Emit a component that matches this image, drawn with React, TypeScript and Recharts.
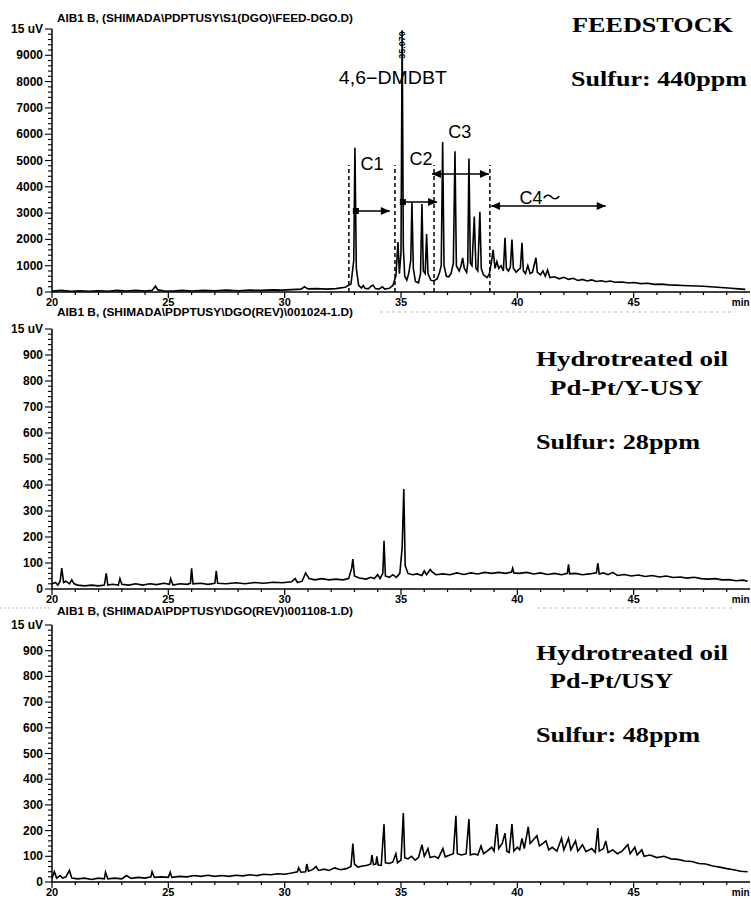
import React from "react";
import { LineChart, Line, XAxis, YAxis, ReferenceLine, ReferenceDot } from "recharts";

type Pt = [number, number];

// retention time axis (min)
const X_MAJOR = [20, 25, 30, 35, 40, 45];
const X_MINOR = [21, 22, 23, 24, 26, 27, 28, 29, 31, 32, 33, 34, 36, 37, 38, 39, 41, 42, 43, 44, 46, 47, 48, 49];
const X_UNIT_AT = 49.6;
const X_UNIT = "min";

const FEED_Y_MAJOR = [0, 1000, 2000, 3000, 4000, 5000, 6000, 7000, 8000, 9000];
const HT_Y_MAJOR = [0, 100, 200, 300, 400, 500, 600, 700, 800, 900];
const Y_TOP_LABEL = "15 uV";

const TITLES = [
  "AIB1 B,  (SHIMADA\\PDPTUSY\\S1(DGO)\\FEED-DGO.D)",
  "AIB1 B,  (SHIMADA\\PDPTUSY\\DGO(REV)\\001024-1.D)",
  "AIB1 B,  (SHIMADA\\PDPTUSY\\DGO(REV)\\001108-1.D)",
];

// feedstock chromatogram
const FEED: Pt[] = [
  [20.0, 40], [20.4, 60], [20.8, 30], [21.2, 50], [21.6, 30], [22.0, 50], [22.4, 30], [22.8, 60],
  [23.2, 40], [23.6, 60], [24.0, 40], [24.3, 60], [24.45, 220], [24.55, 80], [24.8, 50], [25.2, 40],
  [25.6, 60], [26.0, 40], [26.5, 60], [27.0, 50], [27.5, 70], [28.0, 50], [28.5, 70], [29.0, 60],
  [29.5, 80], [29.9, 70], [30.3, 90], [30.7, 110], [30.85, 200], [31.0, 120], [31.4, 130], [31.8, 110],
  [32.2, 130], [32.6, 180], [32.85, 300], [32.97, 1200], [33.02, 5480], [33.08, 900], [33.18, 250],
  [33.3, 150], [33.38, 250], [33.45, 140], [33.6, 120], [33.72, 230], [33.8, 260], [33.9, 130],
  [34.05, 110], [34.2, 200], [34.3, 110], [34.5, 140], [34.65, 250], [34.78, 600], [34.87, 1900],
  [34.93, 700], [35.0, 1500], [35.05, 9950], [35.1, 1700], [35.16, 600], [35.25, 450], [35.33, 700],
  [35.42, 1200], [35.47, 3400], [35.53, 900], [35.62, 400], [35.75, 350], [35.84, 700], [35.9, 3350],
  [35.96, 800], [36.04, 700], [36.1, 2200], [36.16, 700], [36.28, 450], [36.4, 420], [36.55, 500],
  [36.65, 720], [36.73, 1000], [36.79, 5700], [36.85, 1000], [36.95, 600], [37.05, 580], [37.15, 700],
  [37.25, 1100], [37.32, 5350], [37.38, 1000], [37.5, 800], [37.58, 1000], [37.65, 1300], [37.72, 900],
  [37.82, 750], [37.87, 1100], [37.92, 5080], [37.98, 1100], [38.05, 1000], [38.15, 2870], [38.22, 900],
  [38.3, 800], [38.39, 3050], [38.45, 900], [38.55, 650], [38.7, 550], [38.8, 700], [38.88, 1100],
  [38.96, 1600], [39.04, 900], [39.12, 1150], [39.2, 900], [39.3, 1000], [39.4, 800], [39.47, 2060],
  [39.53, 900], [39.62, 800], [39.7, 950], [39.77, 1990], [39.83, 900], [39.95, 750], [40.05, 850],
  [40.13, 900], [40.2, 1870], [40.26, 800], [40.35, 700], [40.45, 1000], [40.55, 700], [40.65, 750],
  [40.8, 1300], [40.86, 750], [41.0, 650], [41.1, 800], [41.2, 600], [41.3, 840], [41.4, 550],
  [41.6, 580], [41.8, 500], [42.0, 560], [42.2, 480], [42.4, 520], [42.6, 440], [42.8, 480], [43.0, 420],
  [43.2, 460], [43.4, 400], [43.6, 430], [43.8, 390], [44.0, 420], [44.2, 370], [44.5, 380], [44.8, 340],
  [45.0, 360], [45.3, 320], [45.6, 330], [45.9, 290], [46.2, 300], [46.5, 270], [46.8, 260], [47.1, 250],
  [47.4, 240], [47.7, 230], [48.0, 220], [48.3, 200], [48.6, 180], [48.9, 160], [49.2, 140], [49.5, 120],
  [49.8, 100],
];

// hydrotreated, Pd-Pt/Y-USY
const PDPT_YUSY: Pt[] = [
  [20.0, 20], [20.15, 25], [20.25, 15], [20.35, 30], [20.42, 80], [20.5, 25], [20.6, 30], [20.75, 20],
  [20.85, 35], [20.95, 20], [21.1, 15], [21.4, 12], [21.7, 15], [22.0, 12], [22.25, 15], [22.33, 60],
  [22.4, 15], [22.6, 18], [22.85, 15], [22.92, 40], [23.0, 18], [23.3, 15], [23.6, 20], [23.9, 15],
  [24.2, 20], [24.5, 17], [24.8, 22], [25.05, 18], [25.1, 40], [25.2, 15], [25.5, 20], [25.8, 18],
  [25.95, 22], [26.0, 80], [26.06, 20], [26.4, 22], [26.7, 18], [27.0, 22], [27.06, 70], [27.12, 22],
  [27.5, 20], [27.9, 24], [28.3, 20], [28.7, 25], [29.1, 22], [29.5, 26], [29.9, 24], [30.3, 28],
  [30.45, 40], [30.55, 25], [30.75, 30], [30.9, 62], [31.05, 40], [31.3, 35], [31.6, 40], [31.9, 35],
  [32.2, 38], [32.5, 35], [32.75, 40], [32.88, 80], [32.93, 115], [33.0, 50], [33.2, 42], [33.5, 38],
  [33.7, 45], [33.85, 40], [34.0, 55], [34.1, 40], [34.22, 60], [34.27, 185], [34.33, 50], [34.5, 45],
  [34.65, 55], [34.8, 45], [34.95, 60], [35.05, 160], [35.12, 385], [35.18, 90], [35.3, 60], [35.5, 55],
  [35.7, 58], [35.9, 52], [36.0, 70], [36.1, 55], [36.25, 75], [36.35, 65], [36.5, 55], [36.8, 58],
  [37.1, 55], [37.4, 62], [37.7, 56], [38.0, 62], [38.3, 58], [38.6, 64], [38.9, 60], [39.2, 64],
  [39.5, 60], [39.75, 65], [39.8, 80], [39.85, 62], [40.1, 60], [40.4, 64], [40.7, 58], [41.0, 62],
  [41.3, 56], [41.6, 60], [41.9, 55], [42.15, 60], [42.2, 95], [42.25, 58], [42.5, 60], [42.8, 55],
  [43.1, 58], [43.4, 62], [43.46, 100], [43.52, 58], [43.7, 62], [43.9, 55], [44.1, 64], [44.3, 52],
  [44.6, 56], [44.9, 50], [45.2, 54], [45.5, 48], [45.8, 52], [46.1, 46], [46.4, 50], [46.7, 44],
  [47.0, 46], [47.3, 42], [47.6, 45], [47.9, 40], [48.2, 38], [48.5, 40], [48.8, 35], [49.1, 36],
  [49.4, 32], [49.7, 34], [49.9, 30],
];

// hydrotreated, Pd-Pt/USY
const PDPT_USY: Pt[] = [
  [20.0, 15], [20.1, 40], [20.2, 15], [20.35, 25], [20.45, 15], [20.6, 20], [20.75, 45], [20.85, 15],
  [21.1, 12], [21.4, 15], [21.7, 10], [22.0, 15], [22.25, 12], [22.3, 38], [22.4, 12], [22.7, 15],
  [23.0, 12], [23.2, 25], [23.4, 14], [23.7, 18], [24.0, 15], [24.25, 20], [24.3, 40], [24.4, 18],
  [24.7, 20], [25.0, 18], [25.08, 38], [25.15, 18], [25.5, 22], [25.8, 20], [26.1, 25], [26.4, 22],
  [26.7, 26], [27.0, 22], [27.3, 25], [27.6, 22], [27.9, 26], [28.2, 24], [28.5, 28], [28.8, 25],
  [29.1, 30], [29.4, 28], [29.7, 32], [30.0, 30], [30.3, 35], [30.55, 40], [30.6, 55], [30.7, 38],
  [30.9, 40], [30.95, 70], [31.02, 42], [31.2, 48], [31.35, 60], [31.45, 45], [31.7, 50], [31.9, 45],
  [32.15, 55], [32.4, 48], [32.65, 52], [32.85, 60], [32.93, 150], [33.0, 70], [33.15, 58], [33.35, 62],
  [33.55, 65], [33.7, 70], [33.75, 105], [33.82, 68], [33.92, 70], [33.96, 100], [34.02, 66], [34.15, 65],
  [34.27, 225], [34.33, 75], [34.5, 72], [34.65, 78], [34.78, 110], [34.85, 75], [35.0, 85], [35.1, 268],
  [35.16, 95], [35.3, 90], [35.45, 100], [35.6, 85], [35.75, 95], [35.9, 145], [36.0, 100], [36.16, 130],
  [36.25, 95], [36.45, 100], [36.6, 92], [36.8, 130], [36.9, 98], [37.1, 105], [37.25, 110], [37.36, 258],
  [37.42, 110], [37.6, 105], [37.8, 110], [37.92, 245], [37.98, 105], [38.15, 110], [38.3, 105],
  [38.44, 140], [38.55, 110], [38.7, 120], [38.9, 135], [39.0, 120], [39.12, 225], [39.2, 130],
  [39.35, 150], [39.47, 190], [39.55, 120], [39.65, 115], [39.77, 225], [39.85, 120], [40.0, 135],
  [40.1, 125], [40.2, 170], [40.3, 130], [40.47, 215], [40.55, 150], [40.7, 165], [40.84, 180],
  [40.95, 140], [41.1, 150], [41.23, 160], [41.35, 125], [41.5, 135], [41.7, 120], [41.9, 170],
  [42.0, 125], [42.2, 170], [42.3, 125], [42.5, 160], [42.6, 120], [42.8, 145], [42.95, 118], [43.2, 130],
  [43.35, 115], [43.46, 210], [43.52, 120], [43.7, 130], [43.8, 160], [43.9, 115], [44.1, 125],
  [44.3, 110], [44.5, 120], [44.75, 145], [44.85, 110], [45.05, 135], [45.15, 105], [45.35, 125],
  [45.45, 100], [45.7, 105], [46.0, 95], [46.3, 100], [46.6, 90], [46.9, 88], [47.2, 82], [47.5, 80],
  [47.8, 72], [48.1, 70], [48.4, 62], [48.7, 58], [49.0, 52], [49.3, 48], [49.6, 42], [49.9, 40],
];

// group boundaries and arrows on the feedstock trace
const CUTS = [32.76, 34.74, 36.42, 38.82];
const CUT_TOP = 4830;
const ARROWS = [
  { from: 33.06, to: 34.52, v: 3080, left: "square", right: "head" },
  { from: 35.08, to: 36.55, v: 3420, left: "square", right: "head" },
  { from: 36.33, to: 38.78, v: 4490, left: "head", right: "head" },
  { from: 38.87, to: 43.8, v: 3270, left: "head", right: "head" },
];
const GROUP_LABELS = [
  { t: 33.75, v: 4900, text: "C1" },
  { t: 35.86, v: 5090, text: "C2" },
  { t: 37.53, v: 6120, text: "C3" },
  { t: 40.97, v: 3610, text: "C4～" },
];
const PEAK_NAME = { t: 34.65, v: 8170, text: "4,6−DMDBT" };
const PEAK_RT = { t: 35.05, v: 9390, text: "35.070" };

const SANS = "'Liberation Sans', Arial, 'Noto Sans CJK JP', sans-serif";
const SERIF = "'Liberation Serif', 'Times New Roman', serif";

const toRows = (pts: Pt[]) => pts.map(([t, v]) => ({ t, v }));
const steps = (max: number, step: number) => {
  const out: number[] = [];
  for (let v = 0; v <= max + 1e-9; v += step) out.push(Math.round(v));
  return out;
};

const X_TICKS = [...X_MAJOR, ...X_MINOR, X_UNIT_AT].sort((a, b) => a - b);

function XTick(props: any) {
  const { x, y, payload } = props;
  const val = payload.value;
  if (val === X_UNIT_AT) {
    return (
      <text x={x} y={y + 14} textAnchor="middle" fontSize={10} fontWeight="bold" fontFamily={SANS}>
        {X_UNIT}
      </text>
    );
  }
  const major = X_MAJOR.includes(val);
  return (
    <g>
      <line x1={x} x2={x} y1={y} y2={y + (major ? 6 : 3)} stroke="#000" strokeWidth={1.2} />
      {major && (
        <text x={x} y={y + 14} textAnchor="middle" fontSize={11} fontWeight="bold" fontFamily={SANS}>
          {val}
        </text>
      )}
    </g>
  );
}

function makeYTick(yMax: number, major: number[]) {
  return (props: any) => {
    const { x, y, payload } = props;
    const val = payload.value;
    const isTop = val === yMax;
    const isMajor = isTop || major.includes(val);
    return (
      <g>
        <line x1={x - (isMajor ? 7 : 4)} x2={x} y1={y} y2={y} stroke="#000" strokeWidth={1.1} />
        {isMajor && (
          <text x={x - 9} y={y + 4} textAnchor="end" fontSize={12} fontWeight="bold" fontFamily={SANS}>
            {isTop ? Y_TOP_LABEL : val}
          </text>
        )}
      </g>
    );
  };
}

const headLeft = (p: any) => <path d={`M${p.cx},${p.cy} l9,-4 l0,8 z`} fill="#000" />;
const headRight = (p: any) => <path d={`M${p.cx},${p.cy} l-9,-4 l0,8 z`} fill="#000" />;
const square = (p: any) => <rect x={p.cx - 3} y={p.cy - 3} width={6} height={6} fill="#000" />;
const textShape = (text: string, size: number, length?: number) => (p: any) => (
  <text
    x={p.cx}
    y={p.cy + size * 0.36}
    textAnchor="middle"
    fontSize={size}
    fontFamily={SANS}
    fill="#000"
    textLength={length}
    lengthAdjust={length ? "spacingAndGlyphs" : undefined}
  >
    {text}
  </text>
);
const rotatedShape = (text: string) => (p: any) => (
  <text
    x={p.cx}
    y={p.cy + 3}
    textAnchor="middle"
    fontSize={9}
    fontWeight="bold"
    fontFamily={SANS}
    transform={`rotate(-90 ${p.cx} ${p.cy})`}
  >
    {text}
  </text>
);

type PanelProps = {
  top: number;
  height: number;
  pts: Pt[];
  yMax: number;
  yMajor: number[];
  yMinorStep: number;
  extras?: React.ReactNode[];
};

function Panel({ top, height, pts, yMax, yMajor, yMinorStep, extras = [] }: PanelProps) {
  return (
    <div style={{ position: "absolute", left: 0, top, width: 751, height }}>
      <LineChart width={751} height={height} data={toRows(pts)} margin={{ top: 29, right: 1, bottom: 0, left: 0 }}>
        <XAxis
          type="number"
          dataKey="t"
          domain={[20, 50]}
          allowDataOverflow
          ticks={X_TICKS}
          interval={0}
          tick={(p: any) => <XTick {...p} />}
          tickLine={false}
          tickSize={0}
          tickMargin={0}
          height={18}
          axisLine={{ stroke: "#000", strokeWidth: 1.5 }}
        />
        <YAxis
          type="number"
          domain={[0, yMax]}
          allowDataOverflow
          ticks={steps(yMax, yMinorStep)}
          interval={0}
          tick={makeYTick(yMax, yMajor)}
          tickLine={false}
          tickSize={0}
          tickMargin={0}
          width={52}
          axisLine={{ stroke: "#000", strokeWidth: 1.5 }}
        />
        <Line type="linear" dataKey="v" stroke="#000" strokeWidth={1.6} dot={false} isAnimationActive={false} />
        {extras}
      </LineChart>
    </div>
  );
}

const feedExtras: React.ReactNode[] = [
  ...CUTS.map((c, i) => (
    <ReferenceLine
      key={`cut${i}`}
      segment={[{ x: c, y: 0 }, { x: c, y: CUT_TOP }]}
      stroke="#000"
      strokeWidth={1.5}
      strokeDasharray="4 3"
    />
  )),
  ...ARROWS.flatMap((a, i) => [
    <ReferenceLine
      key={`arr${i}`}
      segment={[{ x: a.from, y: a.v }, { x: a.to, y: a.v }]}
      stroke="#000"
      strokeWidth={1.5}
    />,
    <ReferenceDot key={`al${i}`} x={a.from} y={a.v} r={3} shape={a.left === "square" ? square : headLeft} />,
    <ReferenceDot key={`ar${i}`} x={a.to} y={a.v} r={3} shape={headRight} />,
  ]),
  ...GROUP_LABELS.map((g, i) => (
    <ReferenceDot key={`gl${i}`} x={g.t} y={g.v} r={1} shape={textShape(g.text, 18)} />
  )),
  <ReferenceDot key="pname" x={PEAK_NAME.t} y={PEAK_NAME.v} r={1} shape={textShape(PEAK_NAME.text, 18, 108)} />,
  <ReferenceDot key="prt" x={PEAK_RT.t} y={PEAK_RT.v} r={1} shape={rotatedShape(PEAK_RT.text)} />,
];

function Caption({ x, y, w, text }: { x: number; y: number; w: number; text: string }) {
  return (
    <text x={x} y={y} fontSize={22} fontWeight="bold" fontFamily={SERIF} textLength={w} lengthAdjust="spacingAndGlyphs">
      {text}
    </text>
  );
}

function Title({ y, text }: { y: number; text: string }) {
  return (
    <text x={57} y={y} fontSize={10} fontWeight="bold" fontFamily={SANS} textLength={296} lengthAdjust="spacingAndGlyphs">
      {text}
    </text>
  );
}

export default function App() {
  return (
    <div style={{ position: "absolute", left: 0, top: 0, width: 751, height: 901, background: "#fff", overflow: "hidden" }}>
      <Panel top={0} height={310} pts={FEED} yMax={10000} yMajor={FEED_Y_MAJOR} yMinorStep={200} extras={feedExtras} />
      <Panel top={300} height={307} pts={PDPT_YUSY} yMax={1000} yMajor={HT_Y_MAJOR} yMinorStep={20} />
      <Panel top={596} height={304} pts={PDPT_USY} yMax={1000} yMajor={HT_Y_MAJOR} yMinorStep={20} />
      <svg width={751} height={901} style={{ position: "absolute", left: 0, top: 0, pointerEvents: "none" }}>
        <Title y={22} text={TITLES[0]} />
        <Title y={316} text={TITLES[1]} />
        <Title y={615} text={TITLES[2]} />
        <line x1={380} x2={735} y1={312} y2={312} stroke="#bbb" strokeDasharray="3 3" />
        <line x1={537} x2={732} y1={608} y2={608} stroke="#bbb" strokeDasharray="3 3" />
        <line x1={0} x2={50} y1={608} y2={608} stroke="#bbb" strokeDasharray="2 2" />
        <Caption x={572} y={32} w={161} text="FEEDSTOCK" />
        <Caption x={571} y={86} w={176} text="Sulfur: 440ppm" />
        <Caption x={536} y={366} w={192} text="Hydrotreated oil" />
        <Caption x={550} y={395} w={153} text="Pd-Pt/Y-USY" />
        <Caption x={536} y={449} w={164} text="Sulfur: 28ppm" />
        <Caption x={536} y={660} w={192} text="Hydrotreated oil" />
        <Caption x={550} y={688} w={123} text="Pd-Pt/USY" />
        <Caption x={536} y={742} w={164} text="Sulfur: 48ppm" />
      </svg>
    </div>
  );
}
